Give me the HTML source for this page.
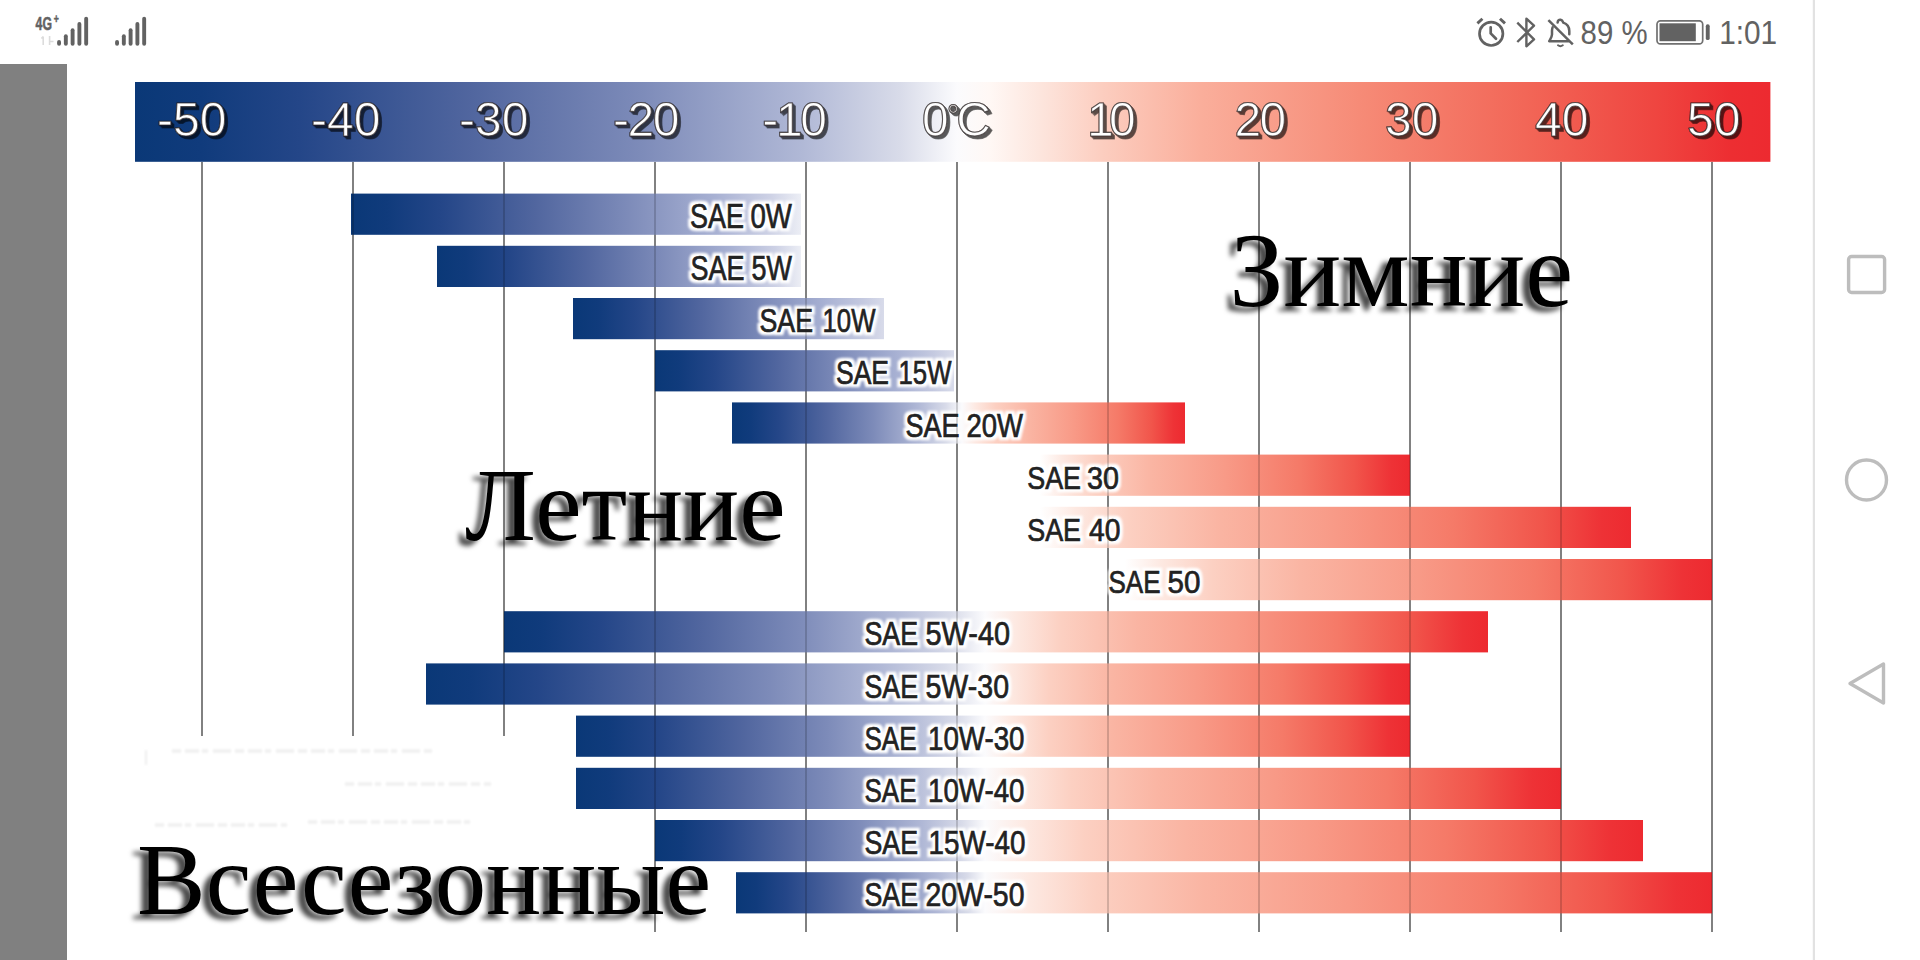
<!DOCTYPE html>
<html lang="ru"><head><meta charset="utf-8"><title>SAE</title>
<style>
html,body{margin:0;padding:0;background:#fff;width:1920px;height:960px;overflow:hidden}
svg{display:block}
.lb{font-family:"Liberation Sans",sans-serif;fill:#222;stroke:#222;stroke-width:0.7px}
.bw{font-family:"Liberation Serif",serif}
.hl{font-family:"Liberation Sans",sans-serif;font-size:48px;fill:#fff;stroke:#2a2222;stroke-opacity:0.7;stroke-width:1.1px}
</style></head>
<body>
<svg width="1920" height="960" viewBox="0 0 1920 960">
<defs>
<linearGradient id="hdr" gradientUnits="userSpaceOnUse" x1="135" y1="0" x2="1771" y2="0"><stop offset="0.0000" stop-color="#0a3877"/><stop offset="0.0402" stop-color="#103b7c"/><stop offset="0.1005" stop-color="#244688"/><stop offset="0.2060" stop-color="#51669f"/><stop offset="0.3090" stop-color="#7d8bb9"/><stop offset="0.4070" stop-color="#b0b8d6"/><stop offset="0.4673" stop-color="#d8dbe9"/><stop offset="0.5024" stop-color="#fbfbfd"/><stop offset="0.5223" stop-color="#fff8f5"/><stop offset="0.5522" stop-color="#fde6de"/><stop offset="0.5920" stop-color="#fccdbf"/><stop offset="0.6517" stop-color="#faae9b"/><stop offset="0.7512" stop-color="#f68a76"/><stop offset="0.8507" stop-color="#f26657"/><stop offset="0.9303" stop-color="#ef4540"/><stop offset="0.9751" stop-color="#ed2e32"/><stop offset="1.0000" stop-color="#ed2a30"/></linearGradient>
<linearGradient id="g0" gradientUnits="userSpaceOnUse" x1="351" y1="0" x2="801" y2="0"><stop offset="0.0000" stop-color="#0a3877"/><stop offset="0.0800" stop-color="#103b7c"/><stop offset="0.2000" stop-color="#244688"/><stop offset="0.4100" stop-color="#51669f"/><stop offset="0.6150" stop-color="#7d8bb9"/><stop offset="0.8100" stop-color="#a8b1d3"/><stop offset="0.9300" stop-color="#cdd1e5"/><stop offset="1.0000" stop-color="#eceef5"/></linearGradient>
<linearGradient id="g1" gradientUnits="userSpaceOnUse" x1="437" y1="0" x2="801" y2="0"><stop offset="0.0000" stop-color="#0a3877"/><stop offset="0.0800" stop-color="#103b7c"/><stop offset="0.2000" stop-color="#244688"/><stop offset="0.4100" stop-color="#51669f"/><stop offset="0.6150" stop-color="#7d8bb9"/><stop offset="0.8100" stop-color="#a8b1d3"/><stop offset="0.9300" stop-color="#cdd1e5"/><stop offset="1.0000" stop-color="#eceef5"/></linearGradient>
<linearGradient id="g2" gradientUnits="userSpaceOnUse" x1="573" y1="0" x2="884" y2="0"><stop offset="0.0000" stop-color="#0a3877"/><stop offset="0.0800" stop-color="#103b7c"/><stop offset="0.2000" stop-color="#244688"/><stop offset="0.4100" stop-color="#51669f"/><stop offset="0.6150" stop-color="#7d8bb9"/><stop offset="0.8100" stop-color="#a8b1d3"/><stop offset="0.9300" stop-color="#c4c9e0"/><stop offset="1.0000" stop-color="#d8dbea"/></linearGradient>
<linearGradient id="g3" gradientUnits="userSpaceOnUse" x1="655" y1="0" x2="954" y2="0"><stop offset="0.0000" stop-color="#0a3877"/><stop offset="0.0800" stop-color="#103b7c"/><stop offset="0.2000" stop-color="#244688"/><stop offset="0.4100" stop-color="#51669f"/><stop offset="0.6150" stop-color="#7d8bb9"/><stop offset="0.8100" stop-color="#a8b1d3"/><stop offset="0.9300" stop-color="#c4c9e0"/><stop offset="1.0000" stop-color="#d8dbea"/></linearGradient>
<linearGradient id="g4" gradientUnits="userSpaceOnUse" x1="732" y1="0" x2="1185" y2="0"><stop offset="0.0000" stop-color="#0a3877"/><stop offset="0.0406" stop-color="#103b7c"/><stop offset="0.1015" stop-color="#244688"/><stop offset="0.2082" stop-color="#51669f"/><stop offset="0.3123" stop-color="#7d8bb9"/><stop offset="0.4113" stop-color="#b0b8d6"/><stop offset="0.4722" stop-color="#d8dbe9"/><stop offset="0.5077" stop-color="#fbfbfd"/><stop offset="0.5373" stop-color="#fde9e2"/><stop offset="0.5816" stop-color="#fcd0c2"/><stop offset="0.6554" stop-color="#fab5a3"/><stop offset="0.7539" stop-color="#f89a87"/><stop offset="0.8523" stop-color="#f57a68"/><stop offset="0.9262" stop-color="#f1554b"/><stop offset="0.9754" stop-color="#ee3236"/><stop offset="1.0000" stop-color="#ed2a30"/></linearGradient>
<linearGradient id="g5" gradientUnits="userSpaceOnUse" x1="1040" y1="0" x2="1410" y2="0"><stop offset="0.0000" stop-color="#ffffff"/><stop offset="0.0600" stop-color="#fde9e2"/><stop offset="0.1500" stop-color="#fcd0c2"/><stop offset="0.3000" stop-color="#fab5a3"/><stop offset="0.5000" stop-color="#f89a87"/><stop offset="0.7000" stop-color="#f57a68"/><stop offset="0.8500" stop-color="#f1554b"/><stop offset="0.9500" stop-color="#ee3236"/><stop offset="1.0000" stop-color="#ed2a30"/></linearGradient>
<linearGradient id="g6" gradientUnits="userSpaceOnUse" x1="1040" y1="0" x2="1631" y2="0"><stop offset="0.0000" stop-color="#ffffff"/><stop offset="0.0600" stop-color="#fde9e2"/><stop offset="0.1500" stop-color="#fcd0c2"/><stop offset="0.3000" stop-color="#fab5a3"/><stop offset="0.5000" stop-color="#f89a87"/><stop offset="0.7000" stop-color="#f57a68"/><stop offset="0.8500" stop-color="#f1554b"/><stop offset="0.9500" stop-color="#ee3236"/><stop offset="1.0000" stop-color="#ed2a30"/></linearGradient>
<linearGradient id="g7" gradientUnits="userSpaceOnUse" x1="1125" y1="0" x2="1712" y2="0"><stop offset="0.0000" stop-color="#ffffff"/><stop offset="0.0600" stop-color="#fde9e2"/><stop offset="0.1500" stop-color="#fcd0c2"/><stop offset="0.3000" stop-color="#fab5a3"/><stop offset="0.5000" stop-color="#f89a87"/><stop offset="0.7000" stop-color="#f57a68"/><stop offset="0.8500" stop-color="#f1554b"/><stop offset="0.9500" stop-color="#ee3236"/><stop offset="1.0000" stop-color="#ed2a30"/></linearGradient>
<linearGradient id="g8" gradientUnits="userSpaceOnUse" x1="504" y1="0" x2="1488" y2="0"><stop offset="0.0000" stop-color="#0a3877"/><stop offset="0.0391" stop-color="#103b7c"/><stop offset="0.0978" stop-color="#244688"/><stop offset="0.2004" stop-color="#51669f"/><stop offset="0.3006" stop-color="#7d8bb9"/><stop offset="0.3959" stop-color="#b0b8d6"/><stop offset="0.4546" stop-color="#d8dbe9"/><stop offset="0.4888" stop-color="#fbfbfd"/><stop offset="0.5195" stop-color="#fde9e2"/><stop offset="0.5655" stop-color="#fcd0c2"/><stop offset="0.6422" stop-color="#fab5a3"/><stop offset="0.7444" stop-color="#f89a87"/><stop offset="0.8466" stop-color="#f57a68"/><stop offset="0.9233" stop-color="#f1554b"/><stop offset="0.9744" stop-color="#ee3236"/><stop offset="1.0000" stop-color="#ed2a30"/></linearGradient>
<linearGradient id="g9" gradientUnits="userSpaceOnUse" x1="426" y1="0" x2="1410" y2="0"><stop offset="0.0000" stop-color="#0a3877"/><stop offset="0.0454" stop-color="#103b7c"/><stop offset="0.1136" stop-color="#244688"/><stop offset="0.2329" stop-color="#51669f"/><stop offset="0.3494" stop-color="#7d8bb9"/><stop offset="0.4602" stop-color="#b0b8d6"/><stop offset="0.5283" stop-color="#d8dbe9"/><stop offset="0.5681" stop-color="#fbfbfd"/><stop offset="0.5940" stop-color="#fde9e2"/><stop offset="0.6329" stop-color="#fcd0c2"/><stop offset="0.6977" stop-color="#fab5a3"/><stop offset="0.7840" stop-color="#f89a87"/><stop offset="0.8704" stop-color="#f57a68"/><stop offset="0.9352" stop-color="#f1554b"/><stop offset="0.9784" stop-color="#ee3236"/><stop offset="1.0000" stop-color="#ed2a30"/></linearGradient>
<linearGradient id="g10" gradientUnits="userSpaceOnUse" x1="576" y1="0" x2="1410" y2="0"><stop offset="0.0000" stop-color="#0a3877"/><stop offset="0.0392" stop-color="#103b7c"/><stop offset="0.0981" stop-color="#244688"/><stop offset="0.2011" stop-color="#51669f"/><stop offset="0.3016" stop-color="#7d8bb9"/><stop offset="0.3972" stop-color="#b0b8d6"/><stop offset="0.4561" stop-color="#d8dbe9"/><stop offset="0.4904" stop-color="#fbfbfd"/><stop offset="0.5210" stop-color="#fde9e2"/><stop offset="0.5668" stop-color="#fcd0c2"/><stop offset="0.6433" stop-color="#fab5a3"/><stop offset="0.7452" stop-color="#f89a87"/><stop offset="0.8471" stop-color="#f57a68"/><stop offset="0.9236" stop-color="#f1554b"/><stop offset="0.9745" stop-color="#ee3236"/><stop offset="1.0000" stop-color="#ed2a30"/></linearGradient>
<linearGradient id="g11" gradientUnits="userSpaceOnUse" x1="576" y1="0" x2="1561" y2="0"><stop offset="0.0000" stop-color="#0a3877"/><stop offset="0.0332" stop-color="#103b7c"/><stop offset="0.0830" stop-color="#244688"/><stop offset="0.1702" stop-color="#51669f"/><stop offset="0.2554" stop-color="#7d8bb9"/><stop offset="0.3363" stop-color="#b0b8d6"/><stop offset="0.3862" stop-color="#d8dbe9"/><stop offset="0.4152" stop-color="#fbfbfd"/><stop offset="0.4503" stop-color="#fde9e2"/><stop offset="0.5029" stop-color="#fcd0c2"/><stop offset="0.5907" stop-color="#fab5a3"/><stop offset="0.7076" stop-color="#f89a87"/><stop offset="0.8246" stop-color="#f57a68"/><stop offset="0.9123" stop-color="#f1554b"/><stop offset="0.9708" stop-color="#ee3236"/><stop offset="1.0000" stop-color="#ed2a30"/></linearGradient>
<linearGradient id="g12" gradientUnits="userSpaceOnUse" x1="655" y1="0" x2="1643" y2="0"><stop offset="0.0000" stop-color="#0a3877"/><stop offset="0.0267" stop-color="#103b7c"/><stop offset="0.0668" stop-color="#244688"/><stop offset="0.1369" stop-color="#51669f"/><stop offset="0.2054" stop-color="#7d8bb9"/><stop offset="0.2705" stop-color="#b0b8d6"/><stop offset="0.3106" stop-color="#d8dbe9"/><stop offset="0.3340" stop-color="#fbfbfd"/><stop offset="0.3740" stop-color="#fde9e2"/><stop offset="0.4339" stop-color="#fcd0c2"/><stop offset="0.5338" stop-color="#fab5a3"/><stop offset="0.6670" stop-color="#f89a87"/><stop offset="0.8002" stop-color="#f57a68"/><stop offset="0.9001" stop-color="#f1554b"/><stop offset="0.9667" stop-color="#ee3236"/><stop offset="1.0000" stop-color="#ed2a30"/></linearGradient>
<linearGradient id="g13" gradientUnits="userSpaceOnUse" x1="736" y1="0" x2="1712" y2="0"><stop offset="0.0000" stop-color="#0a3877"/><stop offset="0.0204" stop-color="#103b7c"/><stop offset="0.0510" stop-color="#244688"/><stop offset="0.1046" stop-color="#51669f"/><stop offset="0.1569" stop-color="#7d8bb9"/><stop offset="0.2066" stop-color="#b0b8d6"/><stop offset="0.2373" stop-color="#d8dbe9"/><stop offset="0.2551" stop-color="#fbfbfd"/><stop offset="0.2998" stop-color="#fde9e2"/><stop offset="0.3669" stop-color="#fcd0c2"/><stop offset="0.4786" stop-color="#fab5a3"/><stop offset="0.6276" stop-color="#f89a87"/><stop offset="0.7765" stop-color="#f57a68"/><stop offset="0.8883" stop-color="#f1554b"/><stop offset="0.9628" stop-color="#ee3236"/><stop offset="1.0000" stop-color="#ed2a30"/></linearGradient>
<filter id="emb" x="-10%" y="-20%" width="125%" height="150%">
<feMorphology in="SourceAlpha" operator="dilate" radius="0.45" result="d"/>
<feOffset in="d" dx="1.2" dy="1.2" result="o1"/>
<feOffset in="d" dx="2.4" dy="2.4" result="o2"/>
<feOffset in="d" dx="3.4" dy="3.2" result="o3"/>
<feMerge result="m"><feMergeNode in="d"/><feMergeNode in="o1"/><feMergeNode in="o2"/><feMergeNode in="o3"/></feMerge>
<feGaussianBlur in="m" stdDeviation="0.6" result="mb"/>
<feFlood flood-color="#000" flood-opacity="0.64"/>
<feComposite in2="mb" operator="in" result="sh"/>
<feMerge><feMergeNode in="sh"/><feMergeNode in="SourceGraphic"/></feMerge>
</filter>
<filter id="sblur" x="-5%" y="-300%" width="110%" height="700%"><feGaussianBlur stdDeviation="1"/></filter>
<filter id="wsh" x="-10%" y="-30%" width="120%" height="170%">
<feGaussianBlur in="SourceAlpha" stdDeviation="2.4" result="b"/>
<feOffset in="b" dx="-6.5" dy="4.8" result="o"/>
<feFlood flood-color="#000" flood-opacity="0.72"/>
<feComposite in2="o" operator="in" result="sh"/>
<feMerge><feMergeNode in="sh"/><feMergeNode in="SourceGraphic"/></feMerge>
</filter>
<filter id="haloonly" x="-10%" y="-30%" width="120%" height="160%">
<feMorphology in="SourceAlpha" operator="dilate" radius="2.7 2.5" result="d"/>
<feGaussianBlur in="d" stdDeviation="0.9" result="db"/>
<feFlood flood-color="#fff" flood-opacity="1"/>
<feComposite in2="db" operator="in"/>
</filter>
</defs>
<rect x="0" y="0" width="1920" height="960" fill="#fff"/>
<rect x="0" y="64" width="67" height="896" fill="#808080"/>
<rect x="201.0" y="162" width="2" height="574" fill="#9a9a9a"/>
<rect x="352.0" y="162" width="2" height="574" fill="#9a9a9a"/>
<rect x="503.0" y="162" width="2" height="574" fill="#9a9a9a"/>
<rect x="654.0" y="162" width="2" height="770" fill="#9a9a9a"/>
<rect x="805.0" y="162" width="2" height="770" fill="#9a9a9a"/>
<rect x="956.0" y="162" width="2" height="770" fill="#9a9a9a"/>
<rect x="1107.0" y="162" width="2" height="770" fill="#9a9a9a"/>
<rect x="1258.0" y="162" width="2" height="770" fill="#9a9a9a"/>
<rect x="1409.0" y="162" width="2" height="770" fill="#9a9a9a"/>
<rect x="1560.0" y="162" width="2" height="770" fill="#9a9a9a"/>
<rect x="1711.0" y="162" width="2" height="770" fill="#9a9a9a"/>
<rect x="135" y="82" width="1635.4" height="79.8" fill="url(#hdr)"/>
<rect x="351" y="193.6" width="450" height="41.2" fill="url(#g0)"/>
<rect x="437" y="245.8" width="364" height="41.2" fill="url(#g1)"/>
<rect x="573" y="298.0" width="311" height="41.2" fill="url(#g2)"/>
<rect x="655" y="350.2" width="299" height="41.2" fill="url(#g3)"/>
<rect x="732" y="402.4" width="453" height="41.2" fill="url(#g4)"/>
<rect x="1040" y="454.6" width="370" height="41.2" fill="url(#g5)"/>
<rect x="1040" y="506.8" width="591" height="41.2" fill="url(#g6)"/>
<rect x="1125" y="559.0" width="587" height="41.2" fill="url(#g7)"/>
<rect x="504" y="611.2" width="984" height="41.2" fill="url(#g8)"/>
<rect x="426" y="663.4" width="984" height="41.2" fill="url(#g9)"/>
<rect x="576" y="715.6" width="834" height="41.2" fill="url(#g10)"/>
<rect x="576" y="767.8" width="985" height="41.2" fill="url(#g11)"/>
<rect x="655" y="820.0" width="988" height="41.2" fill="url(#g12)"/>
<rect x="736" y="872.2" width="976" height="41.2" fill="url(#g13)"/>
<use href="#lbls" filter="url(#haloonly)"/>
<g stroke="#efefef" stroke-width="3.5" fill="none" stroke-dasharray="9 4 14 3 6 5 18 4" filter="url(#sblur)"><path d="M172 751 H432"/><path d="M345 784 H491"/><path d="M155 825 H287 M308 822 H470"/><path d="M146 750 V765" stroke-dasharray="none" stroke-width="2"/></g>
<rect x="201.0" y="162" width="2" height="574" fill="#000" opacity="0.16"/>
<rect x="352.0" y="162" width="2" height="574" fill="#000" opacity="0.16"/>
<rect x="503.0" y="162" width="2" height="574" fill="#000" opacity="0.16"/>
<rect x="654.0" y="162" width="2" height="770" fill="#000" opacity="0.16"/>
<rect x="805.0" y="162" width="2" height="770" fill="#000" opacity="0.16"/>
<rect x="956.0" y="162" width="2" height="770" fill="#000" opacity="0.16"/>
<rect x="1107.0" y="162" width="2" height="770" fill="#000" opacity="0.16"/>
<rect x="1258.0" y="162" width="2" height="770" fill="#000" opacity="0.16"/>
<rect x="1409.0" y="162" width="2" height="770" fill="#000" opacity="0.16"/>
<rect x="1560.0" y="162" width="2" height="770" fill="#000" opacity="0.16"/>
<rect x="1711.0" y="162" width="2" height="770" fill="#000" opacity="0.16"/>
<text transform="translate(1229.5,306.3) scale(1.028,1)" font-size="105" class="bw" fill="#000" filter="url(#wsh)">Зимние</text>
<text transform="translate(465,539.8) scale(1.015,1)" font-size="103" class="bw" fill="#000" filter="url(#wsh)">Летние</text>
<text transform="translate(137.1,914) scale(1.005,1)" font-size="102.4" class="bw" fill="#000" filter="url(#wsh)">Всесезонные</text>
<g id="lbls">
<text x="690.00" y="227.7" font-size="34.5" class="lb"><tspan textLength="53.96" lengthAdjust="spacingAndGlyphs">SAE</tspan> <tspan x="750.50" textLength="41.46" lengthAdjust="spacingAndGlyphs">0W</tspan></text>
<text x="690.50" y="279.9" font-size="34.5" class="lb"><tspan textLength="53.98" lengthAdjust="spacingAndGlyphs">SAE</tspan> <tspan x="751.50" textLength="40.42" lengthAdjust="spacingAndGlyphs">5W</tspan></text>
<text x="759.50" y="332.1" font-size="32.8" class="lb"><tspan textLength="53.46" lengthAdjust="spacingAndGlyphs">SAE</tspan> <tspan x="822.50" textLength="52.94" lengthAdjust="spacingAndGlyphs">10W</tspan></text>
<text x="836.00" y="384.3" font-size="32.8" class="lb"><tspan textLength="52.98" lengthAdjust="spacingAndGlyphs">SAE</tspan> <tspan x="898.50" textLength="52.98" lengthAdjust="spacingAndGlyphs">15W</tspan></text>
<text x="905.50" y="436.5" font-size="32.4" class="lb"><tspan textLength="53.98" lengthAdjust="spacingAndGlyphs">SAE</tspan> <tspan x="966.50" textLength="56.47" lengthAdjust="spacingAndGlyphs">20W</tspan></text>
<text x="1027.25" y="488.7" font-size="31.8" class="lb"><tspan textLength="53.78" lengthAdjust="spacingAndGlyphs">SAE</tspan> <tspan x="1087.00" textLength="31.92" lengthAdjust="spacingAndGlyphs">30</tspan></text>
<text x="1027.25" y="540.9" font-size="31.8" class="lb"><tspan textLength="53.78" lengthAdjust="spacingAndGlyphs">SAE</tspan> <tspan x="1089.00" textLength="31.42" lengthAdjust="spacingAndGlyphs">40</tspan></text>
<text x="1108.50" y="593.1" font-size="31.8" class="lb"><tspan textLength="52.00" lengthAdjust="spacingAndGlyphs">SAE</tspan> <tspan x="1167.50" textLength="32.93" lengthAdjust="spacingAndGlyphs">50</tspan></text>
<text x="864.50" y="645.3" font-size="33.4" class="lb"><tspan textLength="53.50" lengthAdjust="spacingAndGlyphs">SAE</tspan> <tspan x="925.50" textLength="84.51" lengthAdjust="spacingAndGlyphs">5W-40</tspan></text>
<text x="864.50" y="697.5" font-size="33.4" class="lb"><tspan textLength="53.50" lengthAdjust="spacingAndGlyphs">SAE</tspan> <tspan x="925.50" textLength="83.50" lengthAdjust="spacingAndGlyphs">5W-30</tspan></text>
<text x="864.50" y="749.7" font-size="33.4" class="lb"><tspan textLength="51.96" lengthAdjust="spacingAndGlyphs">SAE</tspan> <tspan x="928.00" textLength="96.51" lengthAdjust="spacingAndGlyphs">10W-30</tspan></text>
<text x="864.50" y="801.9" font-size="33.4" class="lb"><tspan textLength="51.96" lengthAdjust="spacingAndGlyphs">SAE</tspan> <tspan x="928.00" textLength="96.51" lengthAdjust="spacingAndGlyphs">10W-40</tspan></text>
<text x="864.50" y="854.1" font-size="33.4" class="lb"><tspan textLength="53.50" lengthAdjust="spacingAndGlyphs">SAE</tspan> <tspan x="928.50" textLength="97.02" lengthAdjust="spacingAndGlyphs">15W-40</tspan></text>
<text x="864.50" y="906.3" font-size="33.4" class="lb"><tspan textLength="53.50" lengthAdjust="spacingAndGlyphs">SAE</tspan> <tspan x="925.50" textLength="98.98" lengthAdjust="spacingAndGlyphs">20W-50</tspan></text>
</g>
<text x="157" y="136.3" class="hl" letter-spacing="0" filter="url(#emb)">-50</text>
<text x="311" y="136.3" class="hl" letter-spacing="0" filter="url(#emb)">-40</text>
<text x="459" y="136.3" class="hl" letter-spacing="0" filter="url(#emb)">-30</text>
<text x="613" y="136.3" class="hl" letter-spacing="-1.5" filter="url(#emb)">-20</text>
<text x="762.3" y="136.3" class="hl" letter-spacing="-2.4" filter="url(#emb)">-10</text>
<text x="1087" y="136.3" class="hl" letter-spacing="-4.6" filter="url(#emb)">10</text>
<text x="1234.5" y="136.3" class="hl" letter-spacing="-1.6" filter="url(#emb)">20</text>
<text x="1385" y="136.3" class="hl" letter-spacing="0" filter="url(#emb)">30</text>
<text x="1535" y="136.3" class="hl" letter-spacing="0" filter="url(#emb)">40</text>
<text x="1687" y="136.3" class="hl" letter-spacing="0" filter="url(#emb)">50</text>
<text x="922" y="136.3" class="hl" filter="url(#emb)">0<tspan dx="-1.5" dy="-11" font-size="30">°</tspan><tspan dx="-3" dy="11">C</tspan></text>
<rect x="57.10" y="40.0" width="3.9" height="5.8" rx="1.95" fill="#626262"/><rect x="63.88" y="34.2" width="3.9" height="11.6" rx="1.95" fill="#626262"/><rect x="70.66" y="28.3" width="3.9" height="17.5" rx="1.95" fill="#626262"/><rect x="77.44" y="22.0" width="3.9" height="23.8" rx="1.95" fill="#626262"/><rect x="84.22" y="16.7" width="3.9" height="29.1" rx="1.95" fill="#626262"/>
<rect x="115.10" y="40.0" width="3.9" height="5.8" rx="1.95" fill="#626262"/><rect x="121.88" y="34.2" width="3.9" height="11.6" rx="1.95" fill="#626262"/><rect x="128.66" y="28.3" width="3.9" height="17.5" rx="1.95" fill="#626262"/><rect x="135.44" y="22.0" width="3.9" height="23.8" rx="1.95" fill="#626262"/><rect x="142.22" y="16.7" width="3.9" height="29.1" rx="1.95" fill="#626262"/>
<text transform="translate(35.6,29.7) scale(0.7,1)" font-family="'Liberation Sans',sans-serif" font-weight="bold" font-size="17.5" fill="#626262" stroke="#626262" stroke-width="0.5">4G<tspan font-size="12.5" dy="-6.5" dx="2.5">+</tspan></text>
<path d="M43.2 36.5 V45 M41.4 38.6 L43.2 36.5 M49.6 36 V45 M49.6 41.5 H53.5" fill="none" stroke="#dcdcdc" stroke-width="1.6"/>
<g fill="none" stroke="#626262" stroke-width="2.7" stroke-linecap="butt">
<circle cx="1491.2" cy="33.8" r="11.7"/>
<path d="M1490.7 27.3 V33.4 L1496 38.8" stroke-linecap="round" stroke-linejoin="round"/>
<path d="M1477.4 23.4 L1482.4 18.7 M1505 23.4 L1500 18.7" stroke-width="2.9"/>
</g>
<path d="M1517.3 22.6 L1534 39.4 L1526.4 46.3 V18.7 L1534 25.6 L1517.3 42" fill="none" stroke="#626262" stroke-width="2.4" stroke-linejoin="round" stroke-linecap="butt"/>
<g fill="none" stroke="#626262" stroke-width="2.5" stroke-linecap="round" stroke-linejoin="round">
<path d="M1557.6 22.6 C1557.8 20.2 1559 19.6 1560.6 19.8 C1562.6 20.2 1562.8 21.6 1563.2 22.6 C1567.6 24 1569.3 27.4 1569.3 31 V34.2"/>
<path d="M1552.6 27.4 C1552 29 1552 30 1552 31 V34.6 C1552 37 1550.2 39.4 1549.2 41.2 H1568.4"/>
<path d="M1548.4 20.2 L1572.8 44.4" stroke-linecap="butt"/>
<path d="M1558 45.3 Q1560.4 47 1562.8 45.3" stroke-width="2"/>
</g>
<text x="1580.6" y="43.6" font-family="'Liberation Sans',sans-serif" font-size="32.4" fill="#626262" textLength="67" lengthAdjust="spacingAndGlyphs">89 %</text>
<rect x="1657" y="20.8" width="45.7" height="23" rx="3.4" fill="none" stroke="#707070" stroke-width="1.7"/>
<rect x="1659.5" y="23.3" width="36.3" height="17.9" fill="#626262"/>
<rect x="1705.8" y="24.3" width="3.9" height="15.8" rx="1.9" fill="#626262"/>
<text x="1719.2" y="43.6" font-family="'Liberation Sans',sans-serif" font-size="32.4" fill="#626262" textLength="58" lengthAdjust="spacingAndGlyphs">1:01</text>
<rect x="1812.8" y="0" width="2.2" height="960" fill="#e2e2e2"/>
<rect x="1848.6" y="256.5" width="36" height="36" rx="3" fill="none" stroke="#bdbdbd" stroke-width="3.4"/>
<circle cx="1866.5" cy="480" r="20" fill="none" stroke="#bdbdbd" stroke-width="3.4"/>
<path d="M1883.5 664 V703 L1850 683.5 Z" fill="none" stroke="#bdbdbd" stroke-width="3.4" stroke-linejoin="round"/>
</svg>
</body></html>
